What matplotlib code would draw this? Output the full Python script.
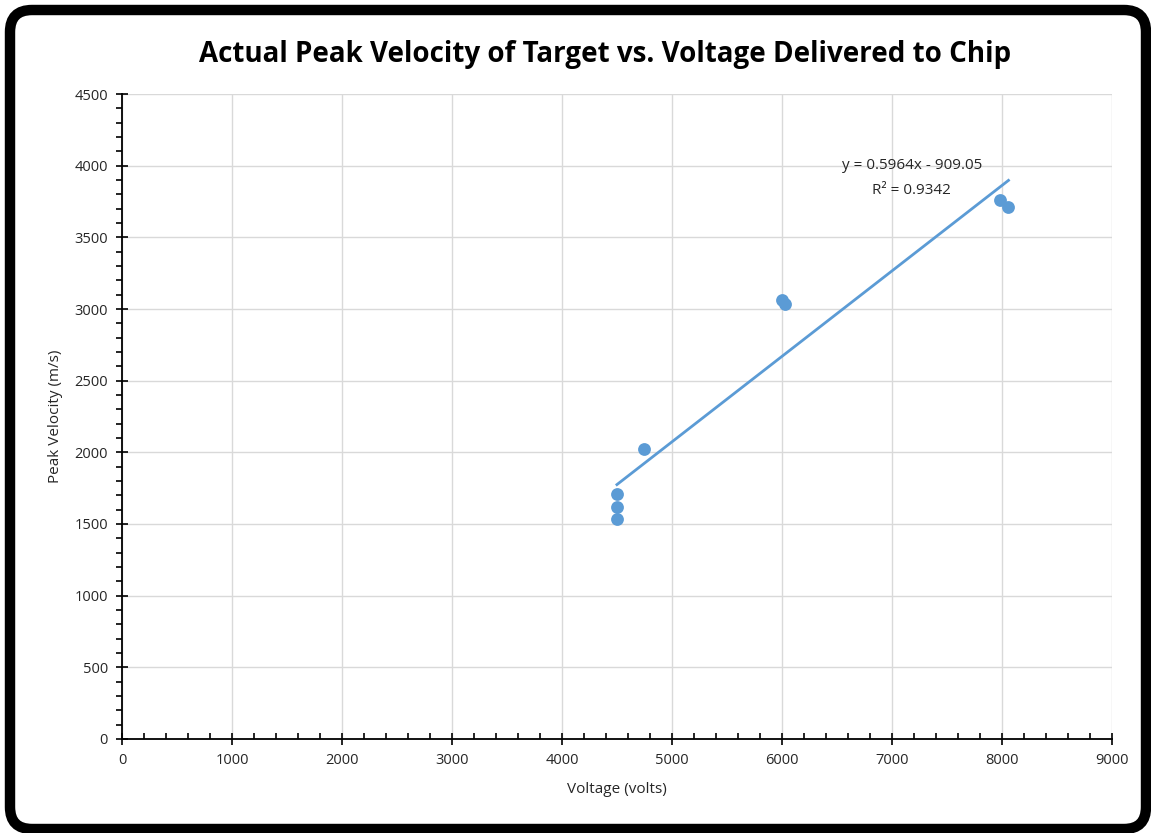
import numpy as np
import matplotlib.pyplot as plt
from matplotlib.patches import FancyBboxPatch
from matplotlib.ticker import MultipleLocator

plt.rcParams['font.family'] = ['Open Sans', 'DejaVu Sans']

# data
voltage = [4500, 4500, 4500, 4750, 6000, 6030, 7980, 8060]
velocity = [1710, 1615, 1535, 2025, 3060, 3035, 3760, 3710]
slope, intercept = 0.5964, -909.05
eq_text = "y = 0.5964x - 909.05"
r2_text = "R² = 0.9342"

blue = '#5B9BD5'
txt = '#262626'

fig = plt.figure(figsize=(11.51, 8.33), dpi=100)
ax = fig.add_axes([0.106, 0.113, 0.86, 0.774])

ax.scatter(voltage, velocity, s=85, color=blue, zorder=3, linewidths=0)
xs = np.array([min(voltage), max(voltage)])
ax.plot(xs, slope * xs + intercept, color=blue, lw=2, zorder=2)
ax.text(7180, 4005, eq_text, ha='center', va='center', fontsize=11, color=txt)
ax.text(7180, 3830, r2_text, ha='center', va='center', fontsize=11, color=txt)

ax.set_xlim(0, 9000)
ax.set_ylim(0, 4500)
ax.xaxis.set_major_locator(MultipleLocator(1000))
ax.xaxis.set_minor_locator(MultipleLocator(200))
ax.yaxis.set_major_locator(MultipleLocator(500))
ax.yaxis.set_minor_locator(MultipleLocator(100))
ax.grid(True, which='major', color='#d9d9d9', lw=1)
ax.set_axisbelow(True)
for s in ['top', 'right']:
    ax.spines[s].set_visible(False)
for s in ['left', 'bottom']:
    ax.spines[s].set_linewidth(1.3)
ax.tick_params(which='major', direction='inout', length=8, width=1.2, labelsize=10.5,
               labelcolor=txt, pad=6)
ax.tick_params(axis='x', which='minor', direction='in', length=4, width=1.2)
ax.tick_params(axis='y', which='minor', direction='out', length=4, width=1.2)

ax.set_xlabel("Voltage (volts)", fontsize=11, labelpad=10, color=txt)
ax.set_ylabel("Peak Velocity (m/s)", fontsize=11, labelpad=8, color=txt)
fig.text(0.526, 0.934, "Actual Peak Velocity of Target vs. Voltage Delivered to Chip",
         ha='center', va='center', fontsize=20, fontweight='bold')

# rounded black frame round the whole chart (inch units so the corners stay round)
frame = FancyBboxPatch((0.10, 0.04), 11.36, 8.19, boxstyle="round,pad=0,rounding_size=0.22",
                       transform=fig.dpi_scale_trans, fill=False, edgecolor='black', lw=7.5)
fig.patches.append(frame)

fig.savefig('out.png', dpi=100)
